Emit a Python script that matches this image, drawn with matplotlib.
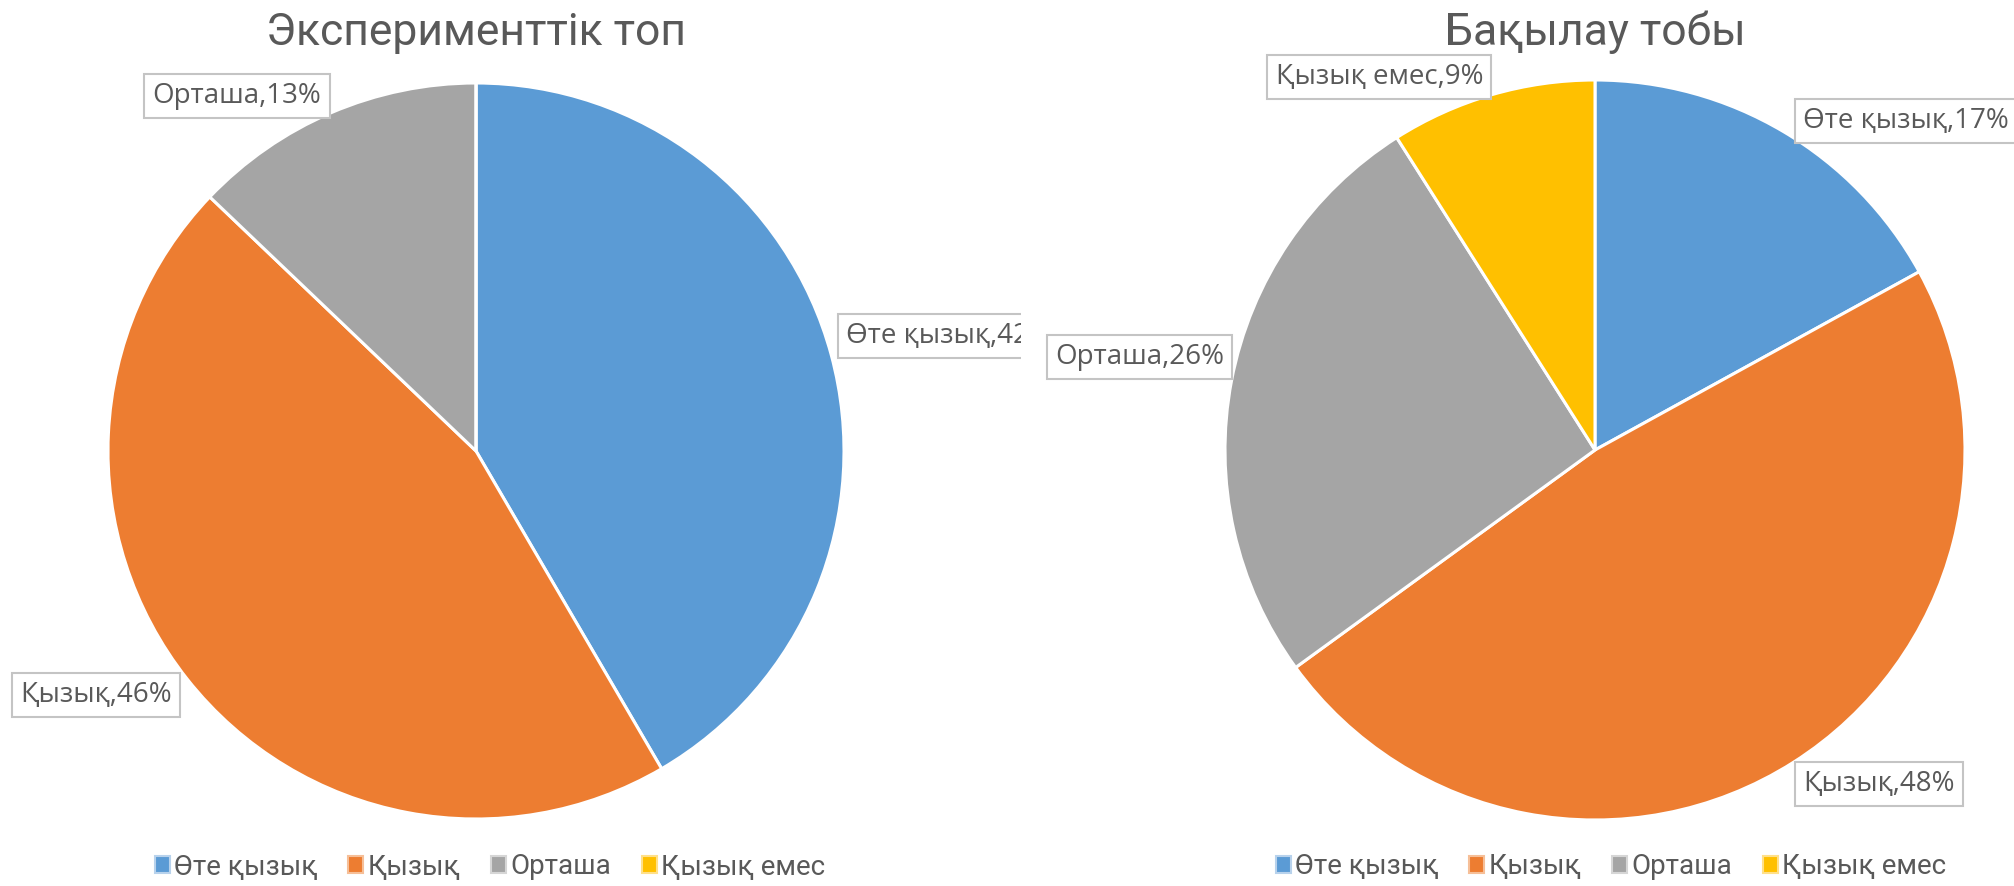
import matplotlib
matplotlib.use('Agg')
import matplotlib.pyplot as plt
from matplotlib.patches import Patch

# категориялар мен үлестер (%)
categories = ['Өте қызық', 'Қызық', 'Орташа', 'Қызық емес']
exp_values = [42, 46, 13, 0]
ctrl_values = [17, 48, 26, 9]
titles = ['Эксперименттік топ', 'Бақылау тобы']

colors = ['#5B9BD5', '#ED7D31', '#A5A5A5', '#FFC000']
edge_light = ['#b8d2ec', '#f6bf98', '#d6d6d6', '#ffe08a']
text_col = '#595959'

title_font = ['Roboto', 'DejaVu Sans']
label_font = ['Open Sans', 'DejaVu Sans']

W, H = 2015, 886
split = 1021

fig = plt.figure(figsize=(W / 100, H / 100), dpi=100)
ax1 = fig.add_axes([0, 0, split / W, 1])
ax2 = fig.add_axes([split / W, 0, (W - split) / W, 1])


def draw_pie(ax, values, center, radius, xlim):
    ax.pie(values, colors=colors, startangle=90, counterclock=False,
           center=center, radius=radius,
           wedgeprops=dict(edgecolor='white', linewidth=2.2))
    ax.set_xlim(*xlim)
    ax.set_ylim(0, H)
    ax.set_aspect('equal', adjustable='box')
    ax.axis('off')


def box_label(ax, x, y, s, ha):
    ax.text(x, y, s, ha=ha, va='center', fontsize=20, color=text_col,
            family=label_font, clip_on=True,
            bbox=dict(boxstyle='square,pad=0.3', facecolor='white',
                      edgecolor='#c4c4c4', linewidth=1.5))


def legend(ax, cx, cy):
    handles = [Patch(facecolor=c, edgecolor=e, linewidth=1.5)
               for c, e in zip(colors, edge_light)]
    ax.legend(handles, categories, loc='center', bbox_to_anchor=(cx, cy),
              bbox_transform=ax.transData, ncol=4, frameon=False,
              handlelength=0.55, handleheight=0.55, handletextpad=0.15,
              columnspacing=1.1,
              prop=dict(family=title_font, size=20), labelcolor=text_col)


# Эксперименттік топ
draw_pie(ax1, exp_values, (476, 435), 368, (0, split))
ax1.text(476, H - 45, titles[0], ha='center', va='baseline', fontsize=32,
         color=text_col, family=title_font)
box_label(ax1, 237, H - 96, f'{categories[2]},{exp_values[2]}%', 'center')
box_label(ax1, 846, H - 336, f'{categories[0]},{exp_values[0]}%', 'left')
box_label(ax1, 172, H - 695, f'{categories[1]},{exp_values[1]}%', 'right')
legend(ax1, 490, 19)

# Бақылау тобы
draw_pie(ax2, ctrl_values, (1595, 436), 370, (split, W))
ax2.text(1595, H - 45, titles[1], ha='center', va='baseline', fontsize=32,
         color=text_col, family=title_font)
box_label(ax2, 1483, H - 77, f'{categories[3]},{ctrl_values[3]}%', 'right')
box_label(ax2, 1803, H - 121, f'{categories[0]},{ctrl_values[0]}%', 'left')
box_label(ax2, 1224, H - 357, f'{categories[2]},{ctrl_values[2]}%', 'right')
box_label(ax2, 1803, H - 784, f'{categories[1]},{ctrl_values[1]}%', 'left')
legend(ax2, 1611, 19)

fig.savefig('out.png', dpi=100)
